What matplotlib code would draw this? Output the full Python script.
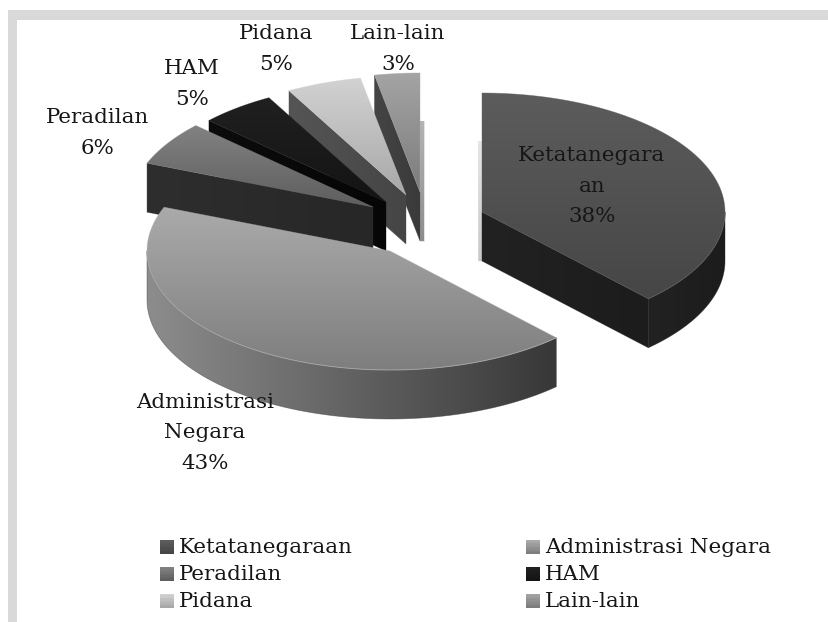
import numpy as np
import matplotlib
matplotlib.use("Agg")
import matplotlib.pyplot as plt
from matplotlib.patches import Polygon, Rectangle
from matplotlib.legend_handler import HandlerBase
from matplotlib.colors import LinearSegmentedColormap
from matplotlib import font_manager as fm

# ---- data ----
categories = ["Ketatanegaraan", "Administrasi Negara", "Peradilan", "HAM", "Pidana", "Lain-lain"]
values = [38, 43, 6, 5, 5, 3]
slice_labels = ["Ketatanegara\nan\n38%", "Administrasi\nNegara\n43%", "Peradilan\n6%",
                "HAM\n5%", "Pidana\n5%", "Lain-lain\n3%"]

# ---- style ----
W, H = 829, 622
RX, RY, DEPTH = 243, 119, 49
centers = [(482, 212), (390, 251), (373, 207), (386, 202), (406, 195), (420, 192)]
top_cols = [("#5c5c5c", "#464646"), ("#aaaaaa", "#7e7e7e"), ("#828282", "#5e5e5e"),
            ("#202020", "#141414"), ("#d2d2d2", "#a8a8a8"), ("#a4a4a4", "#7c7c7c")]
side_cols = [("#222222", "#1c1c1c"), ("#8c8c8c", "#383838"), ("#2e2e2e", "#272727"),
             ("#0c0c0c", "#060606"), ("#555555", "#454545"), ("#454545", "#3a3a3a")]
label_xy = [(592, 186), (205, 433), (98, 133), (192, 84), (276, 49), (398, 49)]
draw_order = [5, 4, 3, 2, 1, 0]
SERIF = "DejaVu Serif"
RIM_UP, RIM_W = 71, 4

fig = plt.figure(figsize=(W / 100, H / 100), dpi=100, facecolor="white")
ax = fig.add_axes([0, 0, 1, 1])
ax.set_xlim(0, W)
ax.set_ylim(H, 0)
ax.axis("off")


def gradient(poly, c0, c1, vertical=True, z=2):
    """Fill a polygon with a linear gradient through a clipped image."""
    xy = np.asarray(poly)
    cmap = LinearSegmentedColormap.from_list("g", [c0, c1])
    g = np.linspace(0, 1, 128)
    arr = g[:, None] if vertical else g[None, :]
    ext = (xy[:, 0].min(), xy[:, 0].max(), xy[:, 1].max(), xy[:, 1].min())
    im = ax.imshow(arr, cmap=cmap, extent=ext, origin="upper", aspect="auto",
                   zorder=z, vmin=0, vmax=1, interpolation="bilinear")
    clip = Polygon(xy, closed=True, transform=ax.transData, fc="none", ec="none")
    ax.add_patch(clip)
    im.set_clip_path(clip)
    ax.add_patch(Polygon(xy, closed=True, fc="none", ec=c1 if not vertical else c0,
                         lw=0.5, alpha=0.5, zorder=z))


def pt(c, t):
    return c[0] + RX * np.sin(t), c[1] - RY * np.cos(t)


fracs = np.array(values, dtype=float) / np.sum(values)
ends = np.cumsum(fracs) * 2 * np.pi
starts = ends - fracs * 2 * np.pi

for z, i in enumerate(draw_order):
    c = centers[i]
    s, e = starts[i], ends[i]
    base = 2 + z * 2
    # thin rim left by the radial face that sits on the vertical
    if abs(s) < 1e-6:
        gradient([(c[0] - RIM_W, c[1] - RIM_UP), (c[0], c[1] - RIM_UP),
                  (c[0], c[1] + DEPTH), (c[0] - RIM_W, c[1] + DEPTH)],
                 "#e6e6e6", "#c8c8c8", z=base)
    if abs(e - 2 * np.pi) < 1e-6:
        gradient([(c[0], c[1] - RIM_UP), (c[0] + RIM_W, c[1] - RIM_UP),
                  (c[0] + RIM_W, c[1] + DEPTH), (c[0], c[1] + DEPTH)],
                 "#b4b4b4", "#8c8c8c", z=base)
    for t, show in ((s, np.sin(s) < -1e-6), (e, np.sin(e) > 1e-6)):
        if show:
            p = pt(c, t)
            gradient([c, p, (p[0], p[1] + DEPTH), (c[0], c[1] + DEPTH)],
                     side_cols[i][0], side_cols[i][1], vertical=False, z=base)
    a0, a1 = max(s, np.pi / 2), min(e, 3 * np.pi / 2)
    if a1 > a0:
        ts = np.linspace(a0, a1, 120)
        arc = np.column_stack(pt(c, ts))
        low = arc + [0, DEPTH]
        gradient(np.vstack([arc, low[::-1]]), side_cols[i][0], side_cols[i][1],
                 vertical=False, z=base)
    ts = np.linspace(s, e, 200)
    arc = np.column_stack(pt(c, ts))
    gradient(np.vstack([[c], arc]), top_cols[i][0], top_cols[i][1], z=base + 1)
    if a1 > a0:
        ts = np.linspace(a0, a1, 120)
        rim = np.column_stack(pt(c, ts))
        ax.plot(rim[:, 0], rim[:, 1], color=top_cols[i][0], lw=0.7, alpha=0.7, zorder=base + 1)

ax.set_xlim(0, W)
ax.set_ylim(H, 0)

# grey frame of the original picture
ax.add_patch(Rectangle((8, 10), W - 8, 9.5, fc="#d9d9d9", ec="none", zorder=0))
ax.add_patch(Rectangle((8, 10), 9.5, H - 10, fc="#d9d9d9", ec="none", zorder=0))

for lab, (x, y) in zip(slice_labels, label_xy):
    ax.text(x, y, lab, ha="center", va="center", fontsize=15.4, family=SERIF,
            color="#161616", linespacing=1.76, zorder=30)


class GradHandler(HandlerBase):
    def __init__(self, c0, c1):
        super().__init__()
        self.c0, self.c1 = c0, c1

    def create_artists(self, legend, orig, xd, yd, w, h, fs, trans):
        cmap = LinearSegmentedColormap.from_list("l", [self.c0, self.c1])
        n = 10
        return [Rectangle((xd, yd + h * k / n), w, h / n + 0.3, fc=cmap(k / (n - 1)),
                          ec="none", transform=trans) for k in range(n)]


leg_idx = [0, 2, 4, 1, 3, 5]
handles = [Rectangle((0, 0), 1, 1, label=categories[i]) for i in leg_idx]
hmap = {h: GradHandler(top_cols[i][1], top_cols[i][0]) for h, i in zip(handles, leg_idx)}
leg = ax.legend(handles=handles, labels=[categories[i] for i in leg_idx], handler_map=hmap,
                ncols=2, frameon=False, loc="upper left",
                bbox_to_anchor=(160, 538), bbox_transform=ax.transData, borderpad=0, borderaxespad=0,
                prop=fm.FontProperties(family=SERIF, size=15.4),
                handlelength=0.65, handleheight=0.6, handletextpad=0.25,
                labelspacing=0.37, columnspacing=8.07)
for t in leg.get_texts():
    t.set_color("#161616")
leg.set_zorder(30)

fig.savefig("out.png", dpi=100)
